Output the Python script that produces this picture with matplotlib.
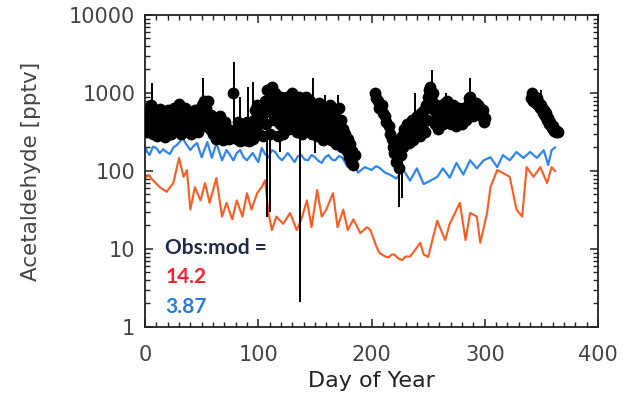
import matplotlib
matplotlib.use("Agg")
import numpy as np
import matplotlib.pyplot as plt
from matplotlib.ticker import LogLocator, MultipleLocator, FixedFormatter, FixedLocator

# observations (day of year, acetaldehyde pptv)
obs_day = [1, 2, 3, 4, 5, 6, 7, 8, 9, 10, 11, 12, 13, 14, 15, 16, 17, 18, 19, 20,
           21, 22, 23, 24, 25, 26, 27, 28, 29, 30, 31, 32, 33, 34, 35, 36, 37, 38, 39, 40,
           41, 42, 43, 44, 45, 46, 47, 48, 49, 50, 51, 52, 53, 54, 55, 56, 57, 58, 59, 60,
           61, 62, 63, 64, 65, 66, 67, 68, 69, 70, 71, 72, 73, 74, 76, 78, 80, 81, 82, 83,
           84, 85, 86, 87, 88, 89, 90, 91, 92, 93, 94, 95, 96, 97, 98, 99, 100, 101, 102, 103,
           104, 105, 106, 107, 108, 109, 110, 111, 112, 113, 114, 115, 116, 117, 118, 119, 120, 121, 122, 123,
           124, 125, 126, 127, 128, 129, 130, 131, 132, 133, 134, 135, 136, 137, 138, 139, 140, 141, 142, 143,
           144, 145, 146, 147, 148, 149, 150, 151, 152, 153, 154, 155, 156, 157, 158, 159, 160, 161, 162, 163,
           164, 165, 166, 167, 168, 169, 170, 171, 172, 173, 174, 175, 176, 177, 178, 179, 180, 181, 182, 183,
           184, 185,
           203, 204, 206, 207, 209, 210, 212, 213, 215, 216, 218, 219, 220, 221, 222, 223, 224, 225, 226, 227,
           228, 229, 230, 231, 232, 233, 234, 235, 236, 237, 238, 239, 240, 241, 242, 243, 244, 245, 246, 247,
           248, 249, 250, 251, 252, 253, 254, 255, 256, 257, 258, 259, 260, 261, 262, 263, 264, 265, 266, 267,
           268, 269, 270, 271, 272, 273, 274, 275, 276, 277, 278, 279, 280, 281, 282, 283, 284, 285, 286, 287,
           288, 289, 290, 291, 292, 293, 294, 295, 296, 297, 298, 299, 300,
           341, 342, 343, 344, 345, 346, 347, 348, 349, 350, 351, 352, 353, 354, 355, 356, 357, 358, 359, 360,
           361, 362, 363, 364, 365]
obs_val = [450, 320, 600, 380, 700, 500, 300, 420, 560, 350, 280, 460, 620, 400, 300, 520, 380, 270, 450, 600,
           340, 480, 300, 560, 420, 650, 330, 500, 380, 720, 450, 300, 550, 400, 650, 330, 480, 580, 350, 450,
           300, 520, 400, 600, 350, 480, 320, 550, 420, 700, 380, 800, 500, 650, 450, 780, 350, 520, 400, 300,
           450, 380, 260, 420, 330, 500, 280, 380, 250, 330, 420, 280, 350, 260, 300, 1000, 330, 260, 420, 300,
           240, 380, 280, 330, 250, 300, 420, 280, 240, 350, 300, 260, 450, 600, 380, 700, 500, 300, 420, 650,
           280, 550, 800, 400, 1100, 600, 300, 900, 1200, 700, 450, 1000, 600, 280, 750, 400, 900, 550, 300, 700,
           450, 900, 600, 350, 800, 500, 1000, 650, 400, 750, 320, 550, 900, 400, 650, 300, 800, 500, 900, 350,
           600, 450, 800, 300, 550, 700, 400, 650, 280, 500, 750, 350, 600, 250, 450, 650, 300, 550, 400, 700,
           250, 450, 600, 320, 500, 220, 400, 650, 300, 450, 200, 350, 250, 300, 180, 260, 150, 220, 130, 180,
           120, 160,
           1000, 850, 800, 650, 700, 550, 500, 420, 380, 300, 260, 200, 170, 240, 130, 180, 110, 220, 160, 280,
           200, 350, 260, 400, 300, 230, 350, 280, 450, 250, 380, 300, 500, 350, 420, 280, 550, 380, 600, 320,
           700, 450, 900, 1100, 1200, 800, 1000, 600, 400, 700, 500, 350, 600, 450, 700, 400, 550, 750, 450, 800,
           500, 650, 400, 550, 700, 450, 600, 380, 550, 650, 450, 600, 400, 550, 650, 450, 500, 700, 850, 900,
           600, 750, 500, 650, 750, 550, 700, 600, 650, 500, 600, 420, 480,
           850, 1000, 800, 900, 750, 850, 700, 750, 650, 700, 550, 600, 500, 550, 450, 480, 400, 420, 360, 380,
           330, 340, 320, 330, 320]

# visible error bars (day, lower end, upper end)
bar_day = [6, 51, 79, 84, 91, 95, 108, 110, 119, 137, 148, 150, 159, 170, 224, 227, 238, 253, 266, 287, 350]
bar_lo = [350, 500, 370, 300, 400, 400, 26, 30, 175, 2.1, 300, 170, 500, 300, 35, 45, 400, 600, 600, 700, 700]
bar_hi = [1340, 1550, 2500, 900, 1200, 1400, 900, 1000, 1000, 900, 1550, 800, 940, 950, 300, 300, 1000, 1970, 1000, 1550, 1100]

# model, blue
blue_day = [0, 2, 4, 7, 10, 13, 16, 19, 22, 25, 28, 31, 33, 36, 40, 43, 46, 50, 55, 59,
            63, 68, 72, 75, 78, 81, 84, 87, 90, 95, 100, 103, 106, 109, 112, 115, 118, 121, 126, 129,
            132, 135, 138, 141, 144, 147, 150, 153, 156, 159, 162, 165, 168, 171, 174, 179, 184, 188, 194, 200,
            204, 207, 212, 216, 222, 228, 234, 240, 246, 252, 258, 263, 269, 275, 281, 287, 293, 299, 305, 311,
            316, 322, 328, 334, 340, 346, 352, 356, 359, 362]
blue_val = [210, 175, 160, 205, 197, 170, 190, 175, 165, 200, 215, 240, 272, 225, 186, 210, 228, 150, 235, 147,
            228, 137, 186, 160, 137, 170, 186, 150, 137, 170, 130, 197, 165, 150, 185, 175, 150, 137, 170, 150,
            130, 155, 160, 140, 137, 160, 150, 135, 127, 150, 160, 140, 137, 155, 150, 112, 137, 95, 112, 103,
            115, 110, 95, 90, 80, 105, 75, 108, 68, 75, 84, 108, 82, 127, 90, 137, 108, 137, 150, 112,
            160, 137, 175, 147, 175, 147, 185, 119, 185, 200]

# model, orange
orange_day = [0, 3, 7, 13, 19, 25, 30, 34, 37, 40, 44, 49, 53, 57, 63, 68, 72, 77, 81, 86,
              90, 94, 99, 103, 106, 109, 112, 116, 122, 128, 134, 138, 143, 147, 152, 156, 160, 166, 170, 175,
              179, 184, 190, 196, 199, 204, 207, 212, 215, 218, 220, 224, 227, 230, 234, 238, 243, 246, 250, 258,
              265, 269, 278, 283, 287, 293, 296, 302, 305, 311, 316, 322, 328, 333, 337, 343, 349, 355, 359, 362]
orange_val = [80, 89, 76, 62, 54, 70, 147, 84, 103, 32, 62, 42, 70, 39, 81, 26, 39, 24, 42, 26,
              52, 32, 52, 62, 76, 29, 17.5, 26, 21, 29, 17.5, 24, 42, 19, 57, 26, 32, 52, 19, 32,
              17.5, 24, 16, 19, 17.5, 11, 8.9, 8, 7.8, 8.5, 8.5, 7.5, 7.2, 8, 8, 9.5, 12, 8.5, 7.9, 23,
              13, 21, 39, 13, 29, 26, 12, 29, 62, 103, 94, 84, 32, 26, 112, 84, 112, 70, 112, 100]

ratio_orange = "14.2"
ratio_blue = "3.87"

gray = "#444444"
fig = plt.figure(figsize=(6.24, 3.94), dpi=100)
ax = fig.add_axes([0.2324, 0.1701, 0.7260, 0.7919])

ax.plot(orange_day, orange_val, color="#ff5a1f", lw=1.5, zorder=2)
ax.plot(blue_day, blue_val, color="#2f86f0", lw=1.6, zorder=2)
ax.vlines(bar_day, bar_lo, bar_hi, color="black", lw=1.4, zorder=3)
ax.plot(obs_day, obs_val, "o", color="black", ms=8.5, mew=0, zorder=4)

ax.set_yscale("log")
ax.set_ylim(1, 10000)
ax.set_xlim(0, 400)
ax.xaxis.set_major_locator(MultipleLocator(100))
ax.xaxis.set_minor_locator(MultipleLocator(10))
ax.yaxis.set_major_locator(FixedLocator([1, 10, 100, 1000, 10000]))
ax.yaxis.set_major_formatter(FixedFormatter(["1", "10", "100", "1000", "10000"]))
ax.yaxis.set_minor_locator(LogLocator(base=10, subs=np.arange(2, 10)))
ax.tick_params(which="both", direction="in", top=True, right=True, colors="#222222",
               labelcolor=gray, labelsize=15)
ax.tick_params(which="major", length=6, width=1.1)
ax.tick_params(which="minor", length=3.5, width=1.0)
ax.tick_params(axis="x", pad=13)
ax.tick_params(axis="y", pad=7)
for s in ax.spines.values():
    s.set_color("#222222")
    s.set_linewidth(1.3)

ax.set_xlabel("Day of Year", fontsize=16, color="#222222", labelpad=4)
ax.set_ylabel("Acetaldehyde [pptv]", fontsize=15.5, color=gray, labelpad=20)

txt = dict(transform=ax.transAxes, fontsize=15, fontweight="bold", family="Lato", va="center")
ax.text(0.045, 0.253, "Obs:mod =", color="#1f2a44", **txt)
ax.text(0.045, 0.16, ratio_orange, color="#ff2035", **txt)
ax.text(0.045, 0.064, ratio_blue, color="#2a7ad8", **txt)

fig.savefig("out.png", dpi=100)
